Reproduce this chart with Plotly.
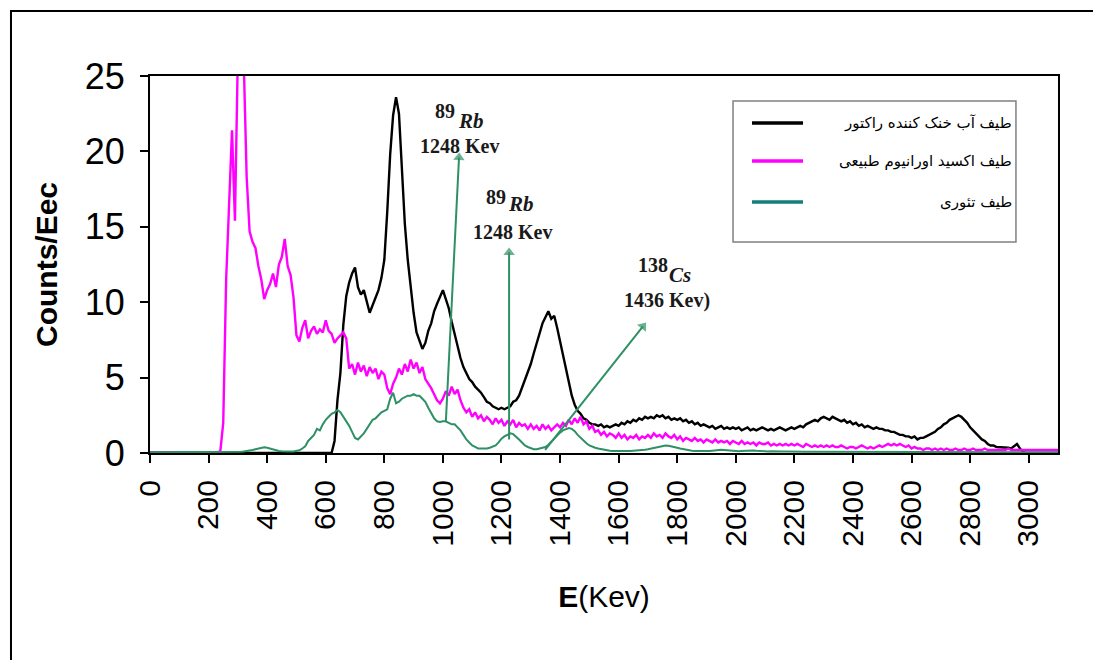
import plotly.graph_objects as go

# Energy channels (keV), 10 keV steps from 0 to 3100
E_KEV = list(range(0, 3101, 10))

# Reactor coolant water spectrum (black)
COOLANT = [
    0, 0, 0, 0, 0, 0, 0, 0, 0, 0,
    0, 0, 0, 0, 0, 0, 0, 0, 0, 0,
    0, 0, 0, 0, 0, 0, 0, 0, 0, 0,
    0, 0, 0, 0, 0, 0, 0, 0, 0, 0,
    0, 0, 0, 0, 0, 0, 0, 0, 0, 0,
    0, 0, 0, 0, 0, 0, 0, 0, 0, 0,
    0, 0, 0, 0.8, 3.5, 5.3, 8.5, 10.4, 11.3, 11.9,
    12.3, 11.0, 10.5, 10.8, 10.0, 9.3, 9.8, 10.3, 10.8, 11.6,
    12.8, 16.0, 19.8, 22.4, 23.6, 22.5, 19.2, 15.2, 12.8, 10.9,
    9.3, 8.0, 7.4, 6.9, 7.3, 8.1, 8.6, 9.4, 9.9, 10.4,
    10.8, 10.2, 9.6, 8.7, 7.9, 6.9, 6.3, 5.7, 5.3, 4.9,
    4.7, 4.4, 4.2, 4.0, 3.7, 3.4, 3.3, 3.1, 3.0, 2.9,
    3.0, 2.9, 3.0, 3.1, 3.4, 3.5, 3.8, 4.3, 4.8, 5.3,
    5.9, 6.6, 7.3, 8.0, 8.6, 9.0, 9.4, 8.9, 9.1, 8.3,
    7.4, 6.4, 5.5, 4.6, 3.8, 3.2, 2.8, 2.6, 2.3, 2.2,
    2.0, 1.9, 1.9, 1.8, 1.9, 1.7, 1.8, 1.7, 1.8, 1.9,
    1.8, 2.0, 1.9, 2.1, 2.0, 2.2, 2.1, 2.3, 2.2, 2.4,
    2.3, 2.4, 2.3, 2.5, 2.4, 2.5, 2.3, 2.4, 2.2, 2.3,
    2.2, 2.3, 2.1, 2.2, 2.0, 2.1, 1.9, 2.0, 1.8, 1.9,
    1.8, 1.7, 1.8, 1.6, 1.7, 1.8, 1.6, 1.7, 1.6, 1.7,
    1.6, 1.7, 1.5, 1.6, 1.7, 1.5, 1.6, 1.5, 1.6, 1.7,
    1.6, 1.5, 1.6, 1.5, 1.6, 1.7, 1.6, 1.5, 1.6, 1.7,
    1.6, 1.7, 1.8, 1.7, 1.9, 2.0, 2.1, 2.2, 2.1, 2.3,
    2.4, 2.3, 2.2, 2.4, 2.3, 2.2, 2.1, 2.2, 2.0, 2.1,
    1.9, 2.0, 1.8, 1.9, 1.7, 1.8, 1.7, 1.6, 1.7, 1.6,
    1.6, 1.5, 1.5, 1.4, 1.4, 1.3, 1.2, 1.2, 1.1, 1.1,
    1.0, 1.1, 0.9, 1.0, 1.0, 1.1, 1.2, 1.3, 1.4, 1.6,
    1.7, 1.9, 2.0, 2.2, 2.3, 2.4, 2.5, 2.4, 2.2, 2.0,
    1.7, 1.5, 1.3, 1.1, 0.9, 0.8, 0.6, 0.5, 0.5, 0.4,
    0.4, 0.35, 0.4, 0.35, 0.3, 0.45, 0.6, 0.3, 0.1, 0,
    0, 0, 0, 0, 0, 0, 0, 0, 0, 0,
    0,
]

# Natural uranium oxide spectrum (magenta)
URANIUM = [
    0.05, 0.05, 0.05, 0.05, 0.05, 0.05, 0.05, 0.05, 0.05, 0.05,
    0.05, 0.05, 0.05, 0.05, 0.05, 0.05, 0.05, 0.05, 0.05, 0.05,
    0.05, 0.05, 0.05, 0.05, 0.1, 2.0, 11.5, 16.8, 21.4, 15.4,
    26.5, 27.0, 26.0, 18.3, 14.7, 14.0, 13.6, 12.4, 11.5, 10.2,
    10.8, 11.2, 11.9, 11.0, 12.5, 13.0, 14.2, 12.4, 11.8, 10.3,
    7.8, 7.4, 8.3, 8.8, 7.6, 8.1, 8.4, 7.9, 8.2, 8.0,
    8.8, 8.1, 7.9, 7.3, 7.6, 7.8, 8.0, 7.6, 5.6, 5.9,
    5.2, 6.0, 5.4, 5.8, 5.1, 5.7, 5.3, 5.6, 4.9, 5.4,
    5.2, 4.3, 3.9, 4.6, 5.0, 5.6, 5.2, 5.9, 5.4, 6.2,
    5.6, 6.0, 5.3, 5.7, 4.9, 4.6, 4.3, 3.9, 3.5, 3.3,
    3.6, 4.1, 3.8, 4.4, 3.9, 4.2, 3.5, 3.0, 2.7, 2.9,
    2.4, 2.7, 2.3, 2.5, 2.1, 2.4, 2.2, 1.9, 2.3, 2.0,
    2.2, 1.8, 2.1, 1.9, 2.2, 1.7, 2.0, 1.8, 1.9, 1.6,
    1.9, 1.6, 1.8, 1.5, 1.9, 1.6, 1.8, 1.5, 1.7, 1.9,
    1.7, 2.0, 1.8, 2.2, 1.9, 2.3, 2.0, 2.4, 1.9, 2.1,
    1.6, 1.8, 1.4, 1.5, 1.2, 1.4, 1.1, 1.3, 1.2, 1.0,
    1.3, 1.0, 1.2, 0.9, 1.1, 1.0, 1.2, 0.9, 1.1, 1.0,
    1.2, 1.0, 1.3, 1.1, 1.2, 1.0, 1.3, 1.1, 1.0, 1.2,
    0.9, 1.1, 0.8, 1.0, 0.9, 0.8, 1.0, 0.8, 0.9, 0.7,
    0.9, 0.8, 0.7, 0.9, 0.7, 0.8, 0.7, 0.8, 0.6, 0.8,
    0.7, 0.6, 0.8, 0.6, 0.7, 0.6, 0.7, 0.5, 0.7, 0.6,
    0.6, 0.7, 0.5, 0.6, 0.5, 0.6, 0.5, 0.6, 0.5, 0.6,
    0.5, 0.6, 0.5, 0.4, 0.6, 0.5, 0.4, 0.5, 0.4, 0.5,
    0.4, 0.5, 0.4, 0.5, 0.4, 0.4, 0.5, 0.4, 0.3, 0.4,
    0.4, 0.3, 0.4, 0.5, 0.4, 0.3, 0.4, 0.3, 0.4, 0.5,
    0.4, 0.5, 0.6, 0.5, 0.6, 0.5, 0.6, 0.5, 0.4, 0.5,
    0.3, 0.4, 0.3, 0.3, 0.2, 0.3, 0.3, 0.2, 0.3, 0.2,
    0.3, 0.2, 0.3, 0.2, 0.2, 0.3, 0.2, 0.2, 0.3, 0.2,
    0.2, 0.3, 0.2, 0.2, 0.2, 0.3, 0.2, 0.2, 0.2, 0.2,
    0.2, 0.2, 0.2, 0.3, 0.2, 0.2, 0.2, 0.2, 0.2, 0.2,
    0.2, 0.2, 0.2, 0.2, 0.2, 0.2, 0.2, 0.2, 0.2, 0.2,
    0.2,
]

# Theoretical spectrum (green)
THEORY = [
    0.05, 0.05, 0.05, 0.05, 0.05, 0.05, 0.05, 0.05, 0.05, 0.05,
    0.05, 0.05, 0.05, 0.05, 0.05, 0.05, 0.05, 0.05, 0.05, 0.05,
    0.05, 0.05, 0.05, 0.05, 0.05, 0.05, 0.05, 0.05, 0.05, 0.05,
    0.05, 0.08, 0.1, 0.12, 0.15, 0.2, 0.25, 0.3, 0.35, 0.38,
    0.35, 0.3, 0.22, 0.16, 0.14, 0.12, 0.1, 0.1, 0.1, 0.1,
    0.12, 0.18, 0.3, 0.45, 0.8, 1.0, 1.2, 1.6, 1.5, 1.9,
    2.2, 2.4, 2.6, 2.7, 2.85, 2.7, 2.4, 2.1, 1.8, 1.4,
    1.0, 0.9, 1.1, 1.3, 1.6, 1.9, 2.2, 2.3, 2.5, 2.7,
    2.8, 2.9, 3.6, 4.0, 3.3, 3.4, 3.6, 3.7, 3.8, 3.8,
    3.9, 3.8, 3.8, 3.6, 3.4, 3.0, 2.6, 2.3, 2.1, 2.05,
    2.1, 2.1, 2.0, 1.9, 1.9, 1.7, 1.5, 1.2, 0.9, 0.7,
    0.5, 0.4, 0.3, 0.3, 0.3, 0.3, 0.35, 0.4, 0.5, 0.7,
    0.95, 1.1, 1.2, 1.3, 1.25, 1.1, 0.9, 0.7, 0.5, 0.4,
    0.3, 0.25, 0.25, 0.3, 0.35, 0.4, 0.55, 0.75, 0.95, 1.2,
    1.35, 1.5, 1.6, 1.65, 1.6, 1.45, 1.2, 1.0, 0.8, 0.65,
    0.5, 0.4, 0.35, 0.3, 0.25, 0.2, 0.18, 0.15, 0.14, 0.13,
    0.12, 0.12, 0.13, 0.13, 0.14, 0.15, 0.16, 0.18, 0.2, 0.22,
    0.25, 0.3, 0.35, 0.4, 0.45, 0.5, 0.5, 0.48, 0.45, 0.4,
    0.35, 0.3, 0.25, 0.2, 0.18, 0.15, 0.13, 0.12, 0.12, 0.12,
    0.12, 0.13, 0.15, 0.18, 0.2, 0.22, 0.2, 0.18, 0.15, 0.13,
    0.12, 0.12, 0.13, 0.15, 0.17, 0.18, 0.17, 0.15, 0.13, 0.12,
    0.1, 0.1, 0.11, 0.12, 0.12, 0.11, 0.1, 0.1, 0.09, 0.09,
    0.08, 0.08, 0.08, 0.08, 0.08, 0.08, 0.08, 0.08, 0.08, 0.08,
    0.07, 0.07, 0.07, 0.07, 0.07, 0.07, 0.07, 0.07, 0.07, 0.07,
    0.06, 0.06, 0.06, 0.06, 0.06, 0.06, 0.06, 0.06, 0.06, 0.06,
    0.05, 0.05, 0.05, 0.05, 0.05, 0.05, 0.05, 0.05, 0.05, 0.05,
    0.05, 0.05, 0.05, 0.05, 0.05, 0.05, 0.05, 0.05, 0.05, 0.05,
    0.05, 0.05, 0.05, 0.05, 0.05, 0.05, 0.05, 0.05, 0.05, 0.05,
    0.05, 0.05, 0.05, 0.05, 0.05, 0.05, 0.05, 0.05, 0.05, 0.05,
    0.05, 0.05, 0.05, 0.05, 0.05, 0.05, 0.05, 0.05, 0.05, 0.05,
    0.05, 0.05, 0.05, 0.05, 0.05, 0.05, 0.05, 0.05, 0.05, 0.05,
    0.05,
]

X_TICKS = [0, 200, 400, 600, 800, 1000, 1200, 1400, 1600, 1800,
           2000, 2200, 2400, 2600, 2800, 3000]
Y_TICKS = [0, 5, 10, 15, 20, 25]

LEGEND_LABELS = [
    "طیف آب خنک کننده راکتور",
    "طیف اکسید اورانیوم طبیعی",
    "طیف تئوری",
]
LEGEND_COLORS = ["#000000", "#ff00ff", "#137f7a"]

# Peak labels: mass number, symbol, energy text and their anchor points (keV, counts)
PEAK_MASS = ["89", "89", "138"]
PEAK_MASS_POS = [(1007, 22.7), (1181, 17.0), (1717, 12.5)]
PEAK_SYMBOL = ["Rb", "Rb", "Cs"]
PEAK_SYMBOL_POS = [(1097, 22.0), (1266, 16.5), (1810, 11.8)]
PEAK_ENERGY = ["1248 Kev", "1248 Kev", "1436 Kev)"]
PEAK_ENERGY_POS = [(1058, 20.35), (1236, 14.65), (1765, 10.1)]

# Arrows: (tail x, tail y, head x, head y) in data units
ARROWS = [
    (1010, 2.05, 1055, 19.6),
    (1226, 0.9, 1226, 13.3),
    (1349, 0.2, 1683, 8.4),
]

assert len(E_KEV) == len(COOLANT) == len(URANIUM) == len(THEORY)

GREEN = "#2e9065"

fig = go.Figure()
fig.add_trace(go.Scatter(x=E_KEV, y=COOLANT, mode="lines", name=LEGEND_LABELS[0],
                         line=dict(color="#000000", width=2.4), showlegend=False))
fig.add_trace(go.Scatter(x=E_KEV, y=URANIUM, mode="lines", name=LEGEND_LABELS[1],
                         line=dict(color="#ff00ff", width=2.4), showlegend=False))
fig.add_trace(go.Scatter(x=E_KEV, y=THEORY, mode="lines", name=LEGEND_LABELS[2],
                         line=dict(color=GREEN, width=2), showlegend=False))

# Arrows as line traces with a triangular head at the end
for tx, ty, hx, hy in ARROWS:
    fig.add_trace(go.Scatter(
        x=[tx, hx], y=[ty, hy], mode="lines+markers", showlegend=False,
        hoverinfo="skip",
        line=dict(color=GREEN, width=2),
        marker=dict(symbol="triangle-up", size=[0, 10], angleref="previous",
                    color=GREEN, line=dict(width=0)),
    ))

annotations = []
serif = "Liberation Serif"
for i in range(len(PEAK_MASS)):
    mx, my = PEAK_MASS_POS[i]
    sx, sy = PEAK_SYMBOL_POS[i]
    ex, ey = PEAK_ENERGY_POS[i]
    annotations.append(dict(x=mx, y=my, xref="x", yref="y", showarrow=False,
                            text=f"<b>{PEAK_MASS[i]}</b>",
                            font=dict(family=serif, size=20, color="#1a1a1a")))
    annotations.append(dict(x=sx, y=sy, xref="x", yref="y", showarrow=False,
                            text=f"<b><i>{PEAK_SYMBOL[i]}</i></b>",
                            font=dict(family=serif, size=21, color="#1a1a1a")))
    annotations.append(dict(x=ex, y=ey, xref="x", yref="y", showarrow=False,
                            text=f"<b>{PEAK_ENERGY[i]}</b>",
                            font=dict(family=serif, size=20, color="#1a1a1a")))

# Manual legend (right-aligned Persian labels)
leg_rows_y = [0.8753, 0.7745, 0.6658]
shapes = [
    # outer frame of the figure
    dict(type="rect", xref="paper", yref="paper", x0=-0.1531, x1=1.07,
         y0=-0.65, y1=1.1724, line=dict(color="#000000", width=2)),
    # legend box
    dict(type="rect", xref="paper", yref="paper", x0=0.6421, x1=0.9537,
         y0=0.56, y1=0.9337, line=dict(color="#808080", width=1.5),
         fillcolor="white", layer="above"),
]
for i, (lab, col) in enumerate(zip(LEGEND_LABELS, LEGEND_COLORS)):
    shapes.append(dict(type="line", xref="paper", yref="paper", x0=0.663, x1=0.7192,
                       y0=leg_rows_y[i], y1=leg_rows_y[i],
                       line=dict(color=col, width=3.5), layer="above"))
    annotations.append(dict(
        x=0.9515, y=leg_rows_y[i], xref="paper", yref="paper", xanchor="right",
        yanchor="middle", showarrow=False, text=lab,
        font=dict(family="DejaVu Sans", size=15, color="#000000"),
    ))

axis_common = dict(
    showline=True, linecolor="#000000", linewidth=2, mirror=True,
    showgrid=False, zeroline=False, ticks="outside", ticklen=8,
    tickwidth=1.5, tickcolor="#000000",
)

# The page body has an 8px margin: size the figure so the plot area lands
# at x 150..1058, y 76..453 of the window.
fig.update_layout(
    width=1093, height=652,
    margin=dict(l=142, r=43, t=68, b=207),
    paper_bgcolor="white", plot_bgcolor="white",
    xaxis=dict(range=[0, 3100], tickvals=X_TICKS, ticktext=[str(v) for v in X_TICKS],
               tickangle=-90, ticklabelstandoff=5,
               tickfont=dict(family="Liberation Sans", size=30, color="#000000"),
               title=dict(text="<b>E</b>(Kev)", standoff=40,
                          font=dict(family="Liberation Sans", size=30, color="#000000")),
               **axis_common),
    yaxis=dict(range=[0, 25], tickvals=Y_TICKS, ticklabelstandoff=8,
               tickfont=dict(family="Liberation Sans", size=36, color="#000000"),
               title=dict(text="<b>Counts/Eec</b>", standoff=18,
                          font=dict(family="Liberation Sans", size=30, color="#000000")),
               **axis_common),
    annotations=annotations,
    shapes=shapes,
    showlegend=False,
)

fig.write_html("out.html")
